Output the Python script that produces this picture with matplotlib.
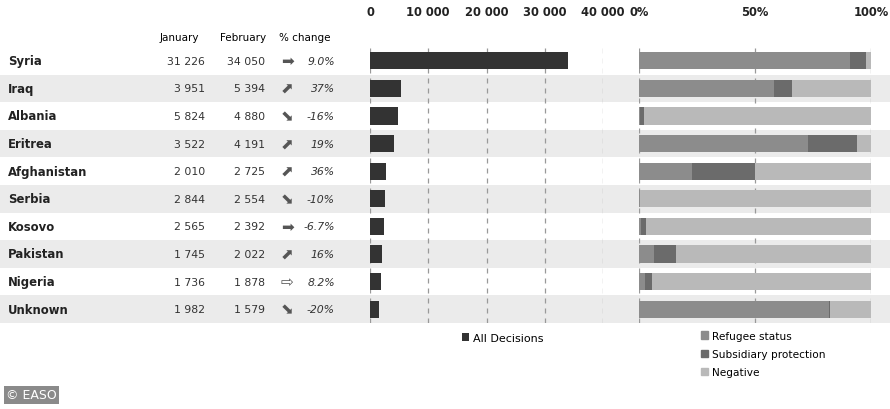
import matplotlib.pyplot as plt
from matplotlib.patches import Patch

countries = ['Syria', 'Iraq', 'Albania', 'Eritrea', 'Afghanistan', 'Serbia',
             'Kosovo', 'Pakistan', 'Nigeria', 'Unknown']
january = [31226, 3951, 5824, 3522, 2010, 2844, 2565, 1745, 1736, 1982]
february = [34050, 5394, 4880, 4191, 2725, 2554, 2392, 2022, 1878, 1579]
pct_change = ['9.0%', '37%', '-16%', '19%', '36%', '-10%', '-6.7%', '16%', '8.2%', '-20%']
arrows = ['➡', '⬈', '⬊', '⬈', '⬈', '⬊', '➡', '⬈', '⇨', '⬊']

# share of decisions (fractions)
refugee = [0.91, 0.58, 0.005, 0.73, 0.23, 0.003, 0.01, 0.065, 0.026, 0.82]
subsidiary = [0.068, 0.078, 0.015, 0.21, 0.27, 0.0, 0.02, 0.095, 0.031, 0.005]
negative = [1 - r - s for r, s in zip(refugee, subsidiary)]

count_ticks = [0, 10000, 20000, 30000, 40000]
count_labels = ['0', '10 000', '20 000', '30 000', '40 000']
pct_ticks = [0, 0.5, 1.0]
pct_labels = ['0%', '50%', '100%']

W, H = 890, 410
plt.rcParams['font.family'] = ['DejaVu Sans']

fig = plt.figure(figsize=(W / 100, H / 100), dpi=100)

top_px, bot_px = 48, 324
fb = 1 - bot_px / H
fh = (bot_px - top_px) / H
n = len(countries)

# background axes: row bands and table
bg = fig.add_axes([0, fb, 1, fh])
bg.set_xlim(0, W)
bg.set_ylim(n - 0.5, -0.5)
bg.axis('off')
for i in range(n):
    if i % 2 == 1:
        bg.axhspan(i - 0.5, i + 0.5, color='#ebebeb', lw=0)

for i in range(n):
    bg.text(8, i, countries[i], ha='left', va='center', fontsize=8.4,
            fontweight='bold', color='#222222')
    bg.text(205, i, f'{january[i]:,}'.replace(',', ' '), ha='right', va='center',
            fontsize=7.8, color='#333333')
    bg.text(265, i, f'{february[i]:,}'.replace(',', ' '), ha='right', va='center',
            fontsize=7.8, color='#333333')
    bg.text(287, i, arrows[i], ha='center', va='center', fontsize=11,
            color='#555555')
    bg.text(335, i, pct_change[i], ha='right', va='center', fontsize=7.8,
            style='italic', color='#333333')

hy = -0.87
bg.text(179, hy, 'January', ha='center', va='center', fontsize=7.5, clip_on=False)
bg.text(243, hy, 'February', ha='center', va='center', fontsize=7.5, clip_on=False)
bg.text(305, hy, '% change', ha='center', va='center', fontsize=7.5, clip_on=False)

# all decisions bar chart
x0, x1 = 370, 603
ax1 = fig.add_axes([x0 / W, fb, (x1 - x0) / W, fh])
ax1.set_facecolor('none')
ax1.barh(range(n), february, height=0.62, color='#333333', zorder=3,
         label='All Decisions')
ax1.set_xlim(0, 40000)
ax1.set_ylim(n - 0.5, -0.5)
ax1.set_yticks([])
ax1.set_xticks(count_ticks)
ax1.set_xticklabels(count_labels, fontweight='bold', fontsize=8.3)
ax1.xaxis.tick_top()
ax1.tick_params(axis='x', length=0, pad=21, colors='#222222')
for s in ax1.spines.values():
    s.set_visible(False)
for t in count_ticks:
    ax1.axvline(t, color='#999999', lw=0.9, ls=(0, (4, 4)), zorder=1)
ax1.legend(loc='upper left', bbox_to_anchor=(0.365, -0.011), frameon=False,
           fontsize=8, handlelength=0.7, handleheight=0.7, handletextpad=0.3,
           borderaxespad=0.2)

# decision share chart
p0, p1 = 639, 871
ax2 = fig.add_axes([p0 / W, fb, (p1 - p0) / W, fh])
ax2.set_facecolor('none')
ax2.barh(range(n), refugee, height=0.62, color='#8c8c8c', zorder=3)
ax2.barh(range(n), subsidiary, left=refugee, height=0.62, color='#6b6b6b', zorder=3)
left2 = [r + s for r, s in zip(refugee, subsidiary)]
ax2.barh(range(n), negative, left=left2, height=0.62, color='#b9b9b9', zorder=3)
ax2.set_xlim(0, 1)
ax2.set_ylim(n - 0.5, -0.5)
ax2.set_yticks([])
ax2.set_xticks(pct_ticks)
ax2.set_xticklabels(pct_labels, fontweight='bold', fontsize=8.3)
ax2.xaxis.tick_top()
ax2.tick_params(axis='x', length=0, pad=21, colors='#222222')
for s in ax2.spines.values():
    s.set_visible(False)
for t in pct_ticks:
    ax2.axvline(t, color='#999999', lw=0.9, ls=(0, (4, 4)), zorder=1)
handles = [Patch(color='#8c8c8c', label='Refugee status'),
           Patch(color='#6b6b6b', label='Subsidiary protection'),
           Patch(color='#b9b9b9', label='Negative')]
ax2.legend(handles=handles, loc='upper left', bbox_to_anchor=(0.24, -0.005),
           frameon=False, fontsize=7.6, handlelength=0.7, handleheight=0.7,
           handletextpad=0.3, labelspacing=0.78, borderaxespad=0.2)

fig.text(6 / W, 1 - 396 / H, '© EASO', ha='left', va='center', fontsize=9,
         color='white', bbox=dict(boxstyle='square,pad=0.2', fc='#8a8a8a', ec='none'))

fig.savefig('out.png', dpi=100)
